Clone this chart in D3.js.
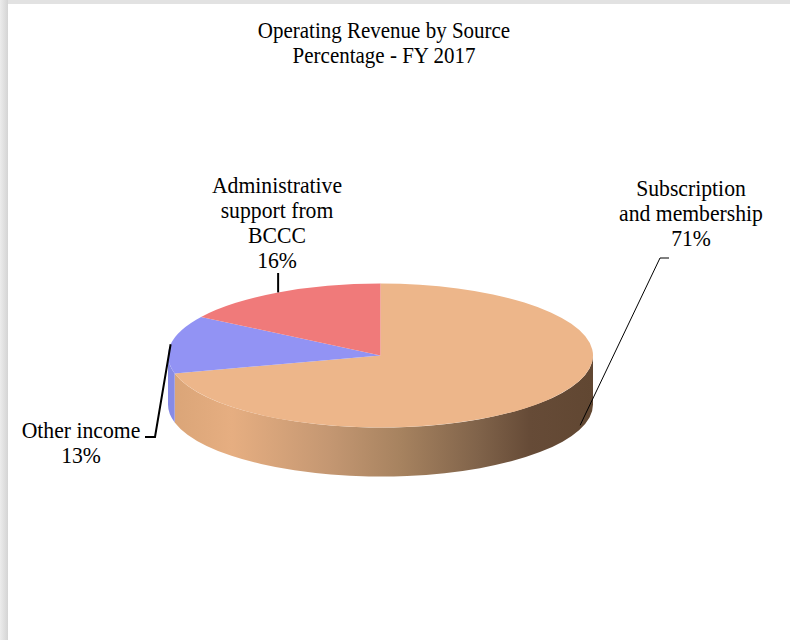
<!DOCTYPE html>
<html>
<head>
<meta charset="utf-8">
<script src="https://cdn.jsdelivr.net/npm/d3@7"></script>
<style>
  html, body { margin: 0; padding: 0; background: #fff; }
  svg { display: block; }
  text { font-family: "Liberation Serif", "Times New Roman", serif; fill: #000; }
</style>
</head>
<body>
<svg id="chart" width="790" height="640"></svg>
<script>
// data
const categories = ["Subscription and membership", "Other income", "Administrative support from BCCC"];
const values = [71, 13, 16];
const nameLines = [["Subscription", "and membership"], ["Other income"], ["Administrative", "support from", "BCCC"]];
const colors = ["#EDB68A", "#9293F4", "#F07A7A"];
const titleLines = ["Operating Revenue by Source", "Percentage - FY 2017"];

const width = 790, height = 640;
const svg = d3.select("#chart");

// page frame (gray edge on left / top)
svg.append("rect").attr("width", width).attr("height", height).attr("fill", "#e2e2e2");
const defs = svg.append("defs");
const edge = defs.append("linearGradient").attr("id", "edge").attr("x1", "0%").attr("x2", "100%");
edge.append("stop").attr("offset", 0).attr("stop-color", "#ececec");
edge.append("stop").attr("offset", 1).attr("stop-color", "#d4d4d4");
svg.append("rect").attr("width", 8).attr("height", height).attr("fill", "url(#edge)");
svg.append("rect").attr("x", 8).attr("y", 4).attr("width", width - 8).attr("height", height - 4).attr("fill", "#fff");

// text block, slightly stretched vertically like the source
const stretch = 1.1;
function textBlock(lines, x, y, size, lh) {
    const g = svg.append("g").attr("transform", `translate(${x},${y}) scale(1,${stretch})`);
    g.append("text")
        .attr("text-anchor", "middle")
        .style("font-size", size + "px")
        .selectAll("tspan")
        .data(lines)
        .join("tspan")
        .attr("x", 0)
        .attr("y", (t, j) => j * lh / stretch)
        .text(t => t);
}

// title
textBlock(titleLines, 384, 38, 21, 25);

// 3d pie geometry
const cx = 380.5, cy = 355.5, rx = 212.5, ry = 72, depth = 49;
const pt = (a, dy = 0) => [cx + rx * Math.sin(a), cy - ry * Math.cos(a) + dy];
const arcs = d3.pie().sort(null).value(d => d)(values);

function topPath(a0, a1) {
    const p0 = pt(a0), p1 = pt(a1);
    const large = a1 - a0 > Math.PI ? 1 : 0;
    return `M${cx},${cy}L${p0}A${rx},${ry} 0 ${large} 1 ${p1}Z`;
}
function sidePath(a0, a1) {
    const s = Math.max(a0, Math.PI / 2), e = Math.min(a1, 3 * Math.PI / 2);
    if (e <= s) return null;
    const large = e - s > Math.PI ? 1 : 0;
    return `M${pt(s)}A${rx},${ry} 0 ${large} 1 ${pt(e)}L${pt(e, depth)}A${rx},${ry} 0 ${large} 0 ${pt(s, depth)}Z`;
}

// side shading: orange wall darkens left to right
const side = defs.append("linearGradient")
    .attr("id", "side0")
    .attr("gradientUnits", "userSpaceOnUse")
    .attr("x1", cx - rx).attr("x2", cx + rx)
    .attr("y1", 0).attr("y2", 0);
[[0, "#d9a477"], [0.15, "#e6ae81"], [0.38, "#c49772"], [0.55, "#a6825f"], [0.73, "#80634a"], [0.85, "#664b37"], [1, "#614732"]]
    .forEach(([o, c]) => side.append("stop").attr("offset", o).attr("stop-color", c));
const sideFill = ["url(#side0)", "#878be6", "#d76d6d"];

svg.append("g")
    .selectAll("path")
    .data(arcs.filter(d => sidePath(d.startAngle, d.endAngle)))
    .join("path")
    .attr("d", d => sidePath(d.startAngle, d.endAngle))
    .attr("fill", d => sideFill[d.index]);

svg.append("g")
    .selectAll("path")
    .data(arcs)
    .join("path")
    .attr("d", d => topPath(d.startAngle, d.endAngle))
    .attr("fill", d => colors[d.index]);

// data labels with leader lines
const labelLayout = [
    { x: 691, y: 196, anchorShift: -0.31, drop: 0.92, elbow: [[660, 258], [669, 258]], stroke: 1 },
    { x: 81, y: 438, anchorShift: 0, drop: 0, elbow: [[155, 437], [145, 437]], stroke: 2 },
    { x: 277, y: 193, anchorShift: 0, drop: 0, elbow: [[null, 273]], stroke: 2 }
];

arcs.forEach((d, i) => {
    const lay = labelLayout[i];
    const mid = (d.startAngle + d.endAngle) / 2 + lay.anchorShift;
    const anchor = pt(mid, depth * lay.drop);
    const pts = [anchor].concat(lay.elbow.map(p => [p[0] === null ? anchor[0] : p[0], p[1]]));
    svg.append("path")
        .attr("d", d3.line()(pts))
        .attr("fill", "none")
        .attr("stroke", "#000")
        .attr("stroke-width", lay.stroke);

    textBlock(nameLines[i].concat([`${values[i]}%`]), lay.x, lay.y, 21.7, 25);
});
</script>
</body>
</html>
